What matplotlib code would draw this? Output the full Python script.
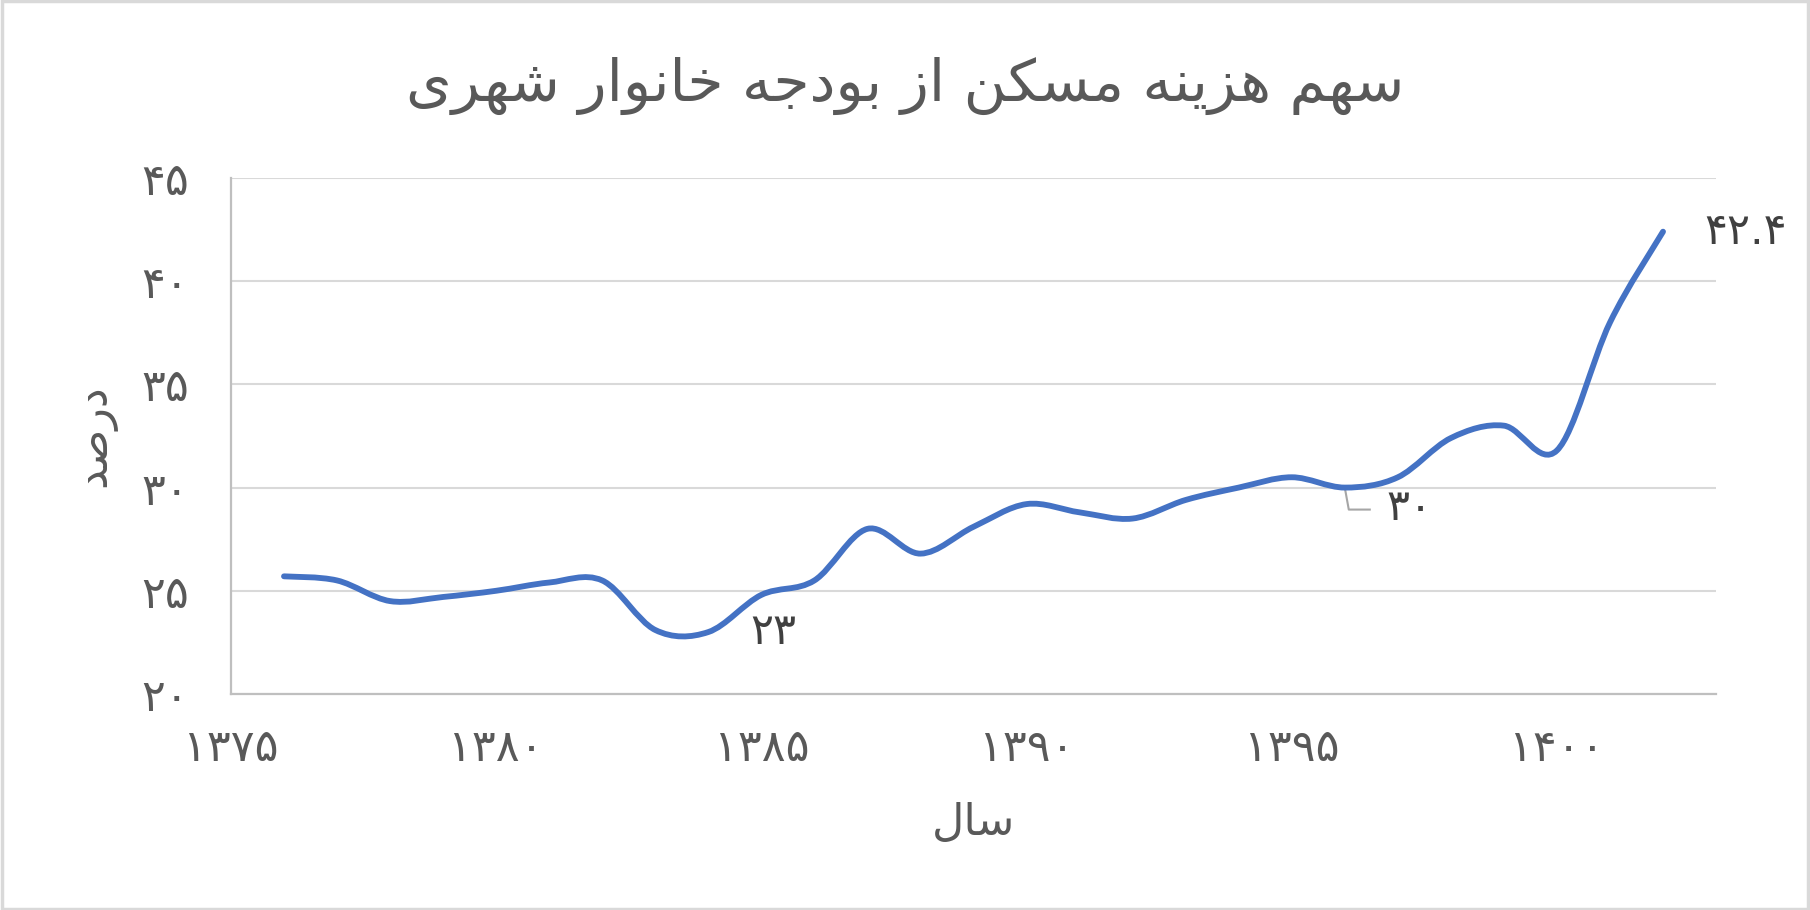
import matplotlib
matplotlib.use("Agg")
import matplotlib.pyplot as plt
import matplotlib.transforms as mtransforms
from matplotlib.path import Path
from matplotlib.patches import PathPatch, Rectangle

# data
years = list(range(1376, 1403))
share = [25.7, 25.5, 24.5, 24.7, 25.0, 25.4, 25.5, 23.1, 23.0, 24.8,
         25.5, 28.0, 26.8, 28.1, 29.2, 28.8, 28.5, 29.4, 30.0, 30.5,
         30.0, 30.5, 32.4, 33.0, 31.8, 38.0, 42.4]
labelled_years = [1384, 1396, 1402]
x_ticks = [1375, 1380, 1385, 1390, 1395, 1400]
y_ticks = [20, 25, 30, 35, 40, 45]

title = "سهم هزینه مسکن از بودجه خانوار شهری"
x_label = "سال"
y_label = "درصد"

# --- minimal persian shaping (matplotlib has no complex text layout) ---
FORMS = {
    "ا": (0xFE8D, 0xFE8E), "د": (0xFEA9, 0xFEAA), "ر": (0xFEAD, 0xFEAE),
    "ز": (0xFEAF, 0xFEB0), "و": (0xFEED, 0xFEEE),
    "ب": (0xFE8F, 0xFE90, 0xFE91, 0xFE92), "ج": (0xFE9D, 0xFE9E, 0xFE9F, 0xFEA0),
    "خ": (0xFEA5, 0xFEA6, 0xFEA7, 0xFEA8), "س": (0xFEB1, 0xFEB2, 0xFEB3, 0xFEB4),
    "ش": (0xFEB5, 0xFEB6, 0xFEB7, 0xFEB8), "ص": (0xFEB9, 0xFEBA, 0xFEBB, 0xFEBC),
    "ل": (0xFEDD, 0xFEDE, 0xFEDF, 0xFEE0), "م": (0xFEE1, 0xFEE2, 0xFEE3, 0xFEE4),
    "ن": (0xFEE5, 0xFEE6, 0xFEE7, 0xFEE8), "ه": (0xFEE9, 0xFEEA, 0xFEEB, 0xFEEC),
    "ی": (0xFBFC, 0xFBFD, 0xFBFE, 0xFBFF), "ک": (0xFB8E, 0xFB8F, 0xFB90, 0xFB91),
}


def shape(text):
    out = []
    for i, ch in enumerate(text):
        if ch not in FORMS:
            out.append(ch)
            continue
        prev = text[i - 1] if i > 0 else ""
        nxt = text[i + 1] if i + 1 < len(text) else ""
        join_prev = prev in FORMS and len(FORMS[prev]) == 4
        join_next = len(FORMS[ch]) == 4 and nxt in FORMS
        f = FORMS[ch]
        if join_prev and join_next:
            out.append(chr(f[3]))
        elif join_prev:
            out.append(chr(f[1]))
        elif join_next:
            out.append(chr(f[2]))
        else:
            out.append(chr(f[0]))
    return "".join(out)[::-1]


def fa_num(v):
    return format(v, "g").translate(str.maketrans("0123456789", "۰۱۲۳۴۵۶۷۸۹"))


plt.rcParams["font.family"] = ["DejaVu Sans"]
grey = "#595959"

fig = plt.figure(figsize=(18.1, 9.1), dpi=100)
ax = fig.add_axes([0.1276, 0.2374, 0.8205, 0.567])

# smooth line as cubic beziers (catmull-rom style, like excel smoothing)
pts = list(zip(years, share))
verts = [pts[0]]
codes = [Path.MOVETO]
for i in range(len(pts) - 1):
    p0 = pts[i - 1] if i > 0 else pts[i]
    p1, p2 = pts[i], pts[i + 1]
    p3 = pts[i + 2] if i + 2 < len(pts) else pts[i + 1]
    c1 = (p1[0] + (p2[0] - p0[0]) / 6, p1[1] + (p2[1] - p0[1]) / 6)
    c2 = (p2[0] - (p3[0] - p1[0]) / 6, p2[1] - (p3[1] - p1[1]) / 6)
    verts += [c1, c2, p2]
    codes += [Path.CURVE4] * 3
ax.add_patch(PathPatch(Path(verts, codes), fill=False, edgecolor="#4472C4",
                       lw=4.2, capstyle="round", joinstyle="round", zorder=3))

ax.set_xlim(1375, 1403)
ax.set_ylim(20, 45)
ax.set_xticks(x_ticks, labels=[fa_num(t) for t in x_ticks])
ax.set_yticks(y_ticks, labels=[fa_num(t) for t in y_ticks])
ax.tick_params(length=0, labelsize=32, colors=grey)
ax.tick_params(axis="y", pad=30)
ax.tick_params(axis="x", pad=24)
ax.grid(axis="y", color="#D9D9D9", lw=1.5)
ax.set_axisbelow(True)
for s in ["top", "right"]:
    ax.spines[s].set_visible(False)
for s in ["left", "bottom"]:
    ax.spines[s].set_color("#BFBFBF")
    ax.spines[s].set_linewidth(1.6)

ax.set_xlabel(shape(x_label), fontsize=32, color=grey, labelpad=22)
ax.set_ylabel(shape(y_label), fontsize=32, color=grey, labelpad=18)
fig.text(0.5, 0.905, shape(title), fontsize=42, color=grey, ha="center", va="center")

# data labels
for yr in labelled_years:
    v = share[years.index(yr)]
    dy = -15 if yr == 1396 else 0
    ax.annotate(fa_num(v), (yr, v), xytext=(30, dy), textcoords="offset points",
                ha="left", va="center", fontsize=31, color="#404040")
    if yr == 1396:
        off = mtransforms.ScaledTranslation(yr, v, ax.transData)
        ax.plot([0, 0.04, 0.25], [0, -0.22, -0.22], color="#A6A6A6", lw=1.5,
                transform=fig.dpi_scale_trans + off, clip_on=False)

fig.add_artist(Rectangle((0.001, 0.001), 0.998, 0.998, transform=fig.transFigure,
                         fill=False, edgecolor="#D9D9D9", lw=2.5))

fig.savefig("out.png", dpi=100)
